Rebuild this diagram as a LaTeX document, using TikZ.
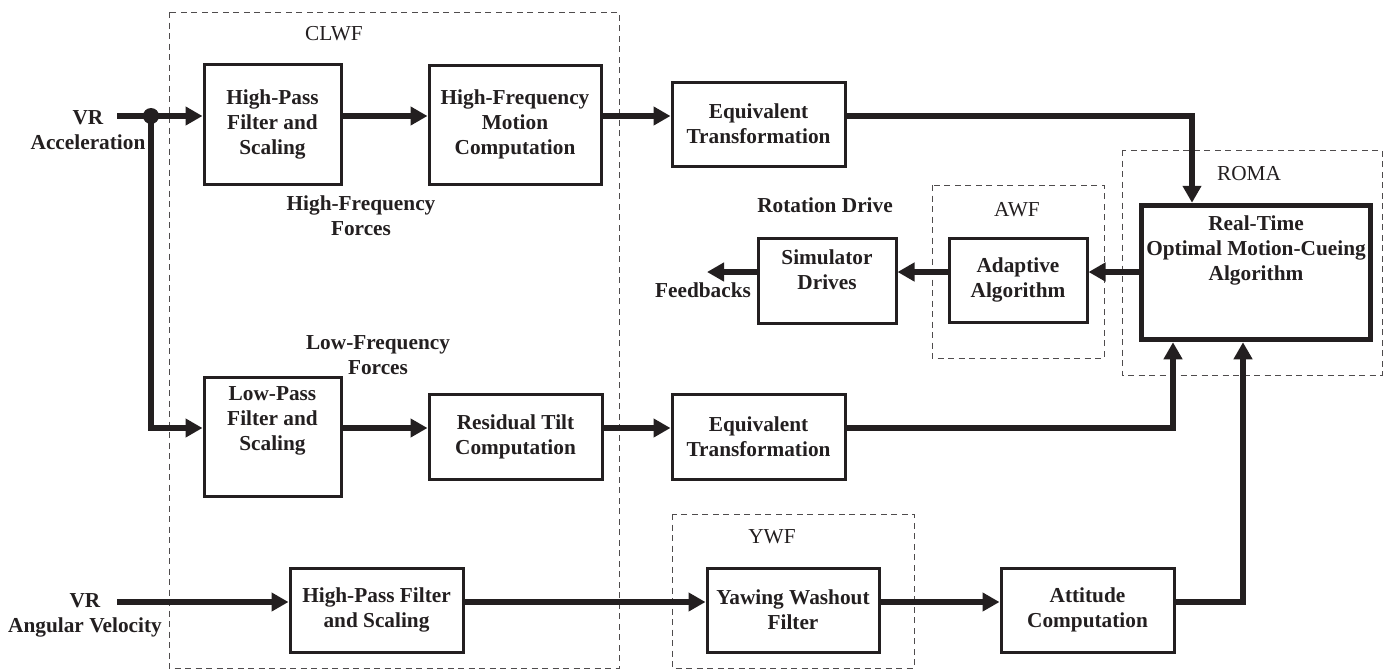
\documentclass[tikz,border=0pt]{standalone}
\usepackage{fontspec}
\setmainfont{Liberation Serif}
\usetikzlibrary{arrows.meta}
\definecolor{ink}{HTML}{231F20}
\begin{document}
\begin{tikzpicture}[x=1pt,y=-1pt,
  every node/.style={font=\fontsize{21.3pt}{25pt}\selectfont, text=ink, inner sep=0pt},
  blk/.style={draw=ink, line width=3pt, align=center, font=\fontsize{21.3pt}{25pt}\selectfont\bfseries},
  txt/.style={align=center, font=\fontsize{21.3pt}{25pt}\selectfont\bfseries},
  grp/.style={draw=ink!80, line width=0.9pt, dash pattern=on 6pt off 4.5pt},
  grplbl/.style={font=\fontsize{21.3pt}{25pt}\selectfont},
  wire/.style={draw=ink, line width=5.5pt},
  arr/.style={wire, -{Triangle[length=17pt,width=18pt]}},
]
\useasboundingbox (0,0) rectangle (1389,670);

% row coordinates
\coordinate (rowA) at (0,116);
\coordinate (rowD) at (0,272);
\coordinate (rowB) at (0,428);
\coordinate (rowC) at (0,602);

% dashed groups
\draw[grp] (169,12) rectangle (619,668);
\draw[grp] (932,185) rectangle (1104,358);
\draw[grp] (1122,150) rectangle (1382,375);
\draw[grp] (672,514) rectangle (914,668);
\node[grplbl] (lclwf) at (334,34) {CLWF};
\node[grplbl] (lawf) at (1017,210) {AWF};
\node[grplbl] (lroma) at (1249,174) {ROMA};
\node[grplbl] (lywf) at (772,537) {YWF};

% blocks
\node[blk, minimum width=137pt, minimum height=120pt] (hpf) at (272.5,124) {High-Pass\\Filter and\\Scaling};
\node[blk, minimum width=172pt, minimum height=119pt] (hfmc) at (515,124.5) {High-Frequency\\Motion\\Computation};
\node[blk, minimum width=173pt, minimum height=84pt] (eqt1) at (758.5,124) {Equivalent\\Transformation};
\node[blk, minimum width=138pt, minimum height=85pt] (sim) at (827,280.5) {};
\node[txt] (simt) at (827,269.5) {Simulator\\Drives};
\node[blk, minimum width=138pt, minimum height=84pt] (ada) at (1018,280) {Adaptive\\Algorithm};
\node[blk, line width=5.5pt, minimum width=229pt, minimum height=134pt] (roma) at (1256,272.5) {};
\node[txt] (romat) at (1256,250) {Real-Time\\Optimal Motion-Cueing\\Algorithm};
\node[blk, minimum width=137pt, minimum height=119pt] (lp) at (272.5,436.5) {};
\node[txt] (lpt) at (272.5,421) {Low-Pass\\Filter and\\Scaling};
\node[blk, minimum width=173pt, minimum height=85pt] (rt) at (515.5,436.5) {Residual Tilt\\Computation};
\node[blk, minimum width=173pt, minimum height=85pt] (eqt2) at (758.5,436.5) {Equivalent\\Transformation};
\node[blk, minimum width=173pt, minimum height=84pt] (hpf2) at (376.5,610) {High-Pass Filter\\and Scaling};
\node[blk, minimum width=172pt, minimum height=84pt] (yaw) at (793,610) {Yawing Washout\\Filter};
\node[blk, minimum width=173pt, minimum height=84pt] (att) at (1087.5,610) {Attitude\\Computation};

% free labels
\node[txt] (vra) at (88,130) {VR\\Acceleration};
\node[txt] (vrw) at (85,615) {VR\\Angular Velocity};
\node[txt] (hff) at (361,216) {High-Frequency\\Forces};
\node[txt] (lff) at (378,355) {Low-Frequency\\Forces};
\node[txt] (rotd) at (825,205) {Rotation Drive};
\node[txt] (fb) at (703,290) {Feedbacks};

% coordinates for free ends / junctions
\coordinate (vrastart) at (117,116);
\coordinate (vrwstart) at (117,602);
\coordinate (split) at (151,116);
\coordinate (fbend) at (707,272);
\coordinate (topx) at (1192,0);
\coordinate (midx) at (1173,0);
\coordinate (botx) at (1243,0);

% connectors
\draw[wire] (vrastart) -- (split);
\draw[arr] (split) -- (hpf.west |- rowA);
\fill[ink] (split) circle (8pt);
\draw[arr] (hpf.east |- rowA) -- (hfmc.west |- rowA);
\draw[arr] (hfmc.east |- rowA) -- (eqt1.west |- rowA);
\draw[arr] (eqt1.east |- rowA) -| (topx |- roma.north);
\draw[arr] (roma.west |- rowD) -- (ada.east |- rowD);
\draw[arr] (ada.west |- rowD) -- (sim.east |- rowD);
\draw[arr] (sim.west |- rowD) -- (fbend);
\draw[arr] (split) |- (lp.west |- rowB);
\draw[arr] (lp.east |- rowB) -- (rt.west |- rowB);
\draw[arr] (rt.east |- rowB) -- (eqt2.west |- rowB);
\draw[arr] (eqt2.east |- rowB) -| (midx |- roma.south);
\draw[arr] (vrwstart) -- (hpf2.west |- rowC);
\draw[arr] (hpf2.east |- rowC) -- (yaw.west |- rowC);
\draw[arr] (yaw.east |- rowC) -- (att.west |- rowC);
\draw[arr] (att.east |- rowC) -| (botx |- roma.south);
\end{tikzpicture}
\end{document}
